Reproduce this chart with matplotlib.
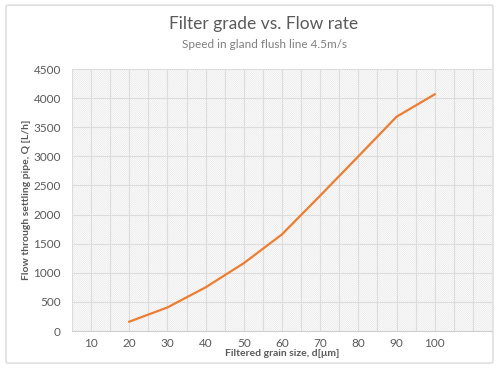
import matplotlib.pyplot as plt
from matplotlib.patches import Rectangle, FancyBboxPatch

# data
grain_size = ['10', '20', '30', '40', '50', '60', '70', '80', '90', '100', '']
flow_x = ['20', '30', '40', '50', '60', '70', '80', '90', '100']
flow_q = [160, 405, 750, 1165, 1660, 2325, 3000, 3680, 4065]

plt.rcParams['font.family'] = ['Lato', 'DejaVu Sans']
plt.rcParams['hatch.linewidth'] = 0.4
grey = '#595959'

fig = plt.figure(figsize=(5, 3.69), dpi=100)
fig.patches.append(FancyBboxPatch((0.012, 0.016), 0.974, 0.97, boxstyle='round,pad=0,rounding_size=0.004',
                                  transform=fig.transFigure, fill=False, edgecolor='#d9d9d9', lw=1.0,
                                  zorder=-1))
ax = fig.add_axes([72 / 500, 1 - 331 / 369, 420 / 500, 262 / 369])
ax.set_facecolor('none')

pos = {lab: i + 1 for i, lab in enumerate(grain_size[:-1])}
xs = [pos[v] for v in flow_x]

# hatched plot area
ax.add_patch(Rectangle((0, 0), 1, 1, transform=ax.transAxes, fill=False, hatch='\\' * 16,
                       edgecolor='#e2e2e2', lw=0, zorder=0))

ax.plot(xs, flow_q, color='#ED7D31', lw=1.6, zorder=3)

ax.set_xlim(0.5, len(grain_size) + 0.5)
ax.set_ylim(0, 4500)
ax.set_yticks(range(0, 4501, 500))
ax.set_xticks(range(1, len(grain_size) + 1))
ax.set_xticklabels(grain_size)
ax.set_xticks([i + 0.5 for i in range(0, len(grain_size) + 1)], minor=True)
ax.grid(True, which='both', axis='x', color='#dcdcdc', lw=0.8, zorder=1)
ax.grid(True, which='major', axis='y', color='#dcdcdc', lw=0.8, zorder=1)
ax.set_axisbelow(True)

for s in ['top', 'right', 'left']:
    ax.spines[s].set_visible(False)
ax.spines['bottom'].set_color('#d0d0d0')
ax.tick_params(which='both', length=0, colors=grey, labelsize=8.5)
ax.tick_params(axis='x', pad=5)
ax.tick_params(axis='y', pad=8)

ax.set_xlabel('Filtered grain size, d[μm]', fontsize=7.5, fontweight='bold', color=grey, labelpad=0)
ax.set_ylabel('Flow through settling pipe, Q [L/h]', fontsize=7.5, fontweight='bold', color=grey, labelpad=2)

fig.text(264 / 500, 1 - 24 / 369, 'Filter grade vs. Flow rate', ha='center', va='center', fontsize=12.5, color=grey)
fig.text(264 / 500, 1 - 44 / 369, 'Speed in gland flush line 4.5m/s', ha='center', va='center', fontsize=8.5,
         color='#7f7f7f')

plt.savefig('out.png', dpi=100)
